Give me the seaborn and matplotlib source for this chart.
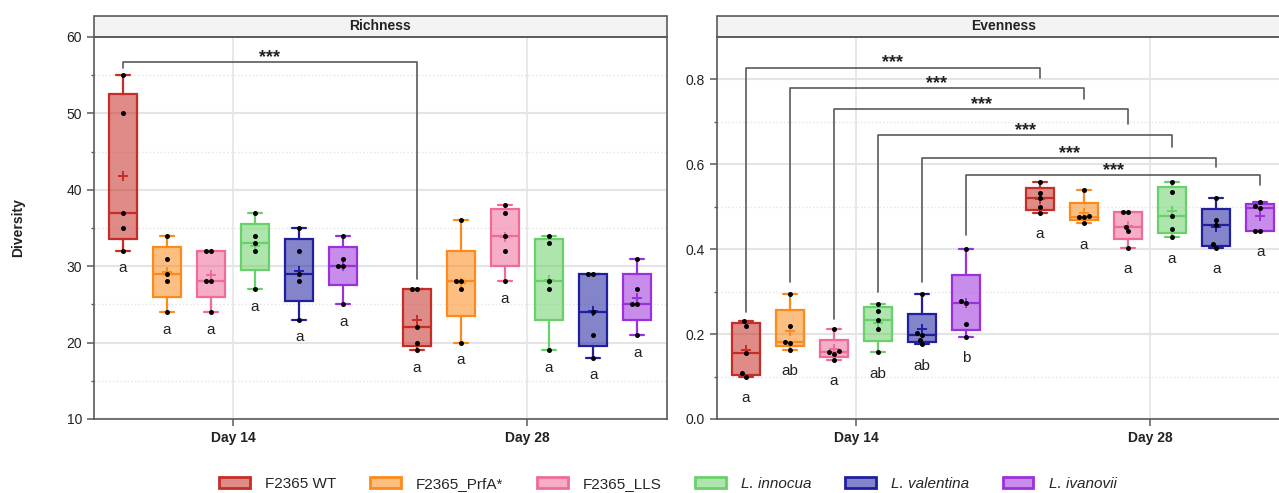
import numpy as np
import pandas as pd
import matplotlib
matplotlib.use('Agg')
import matplotlib.pyplot as plt
from matplotlib.patches import Patch, Rectangle
from matplotlib.colors import to_rgba
from matplotlib.ticker import FormatStrFormatter
import seaborn as sns


# datos (n = 5 por grupo)
strains = ['F2365 WT', 'F2365_PrfA*', 'F2365_LLS', 'L. innocua', 'L. valentina', 'L. ivanovii']
days = ['Day 14', 'Day 28']
edge_colors = ['#c62d26', '#fd8a1c', '#f06b9a', '#6ad16a', '#1f1fa0', '#9c30dc']

richness_day14 = [[32, 35, 37, 50, 55],
                  [24, 28, 29, 31, 34],
                  [24, 28, 28, 32, 32],
                  [27, 32, 33, 34, 37],
                  [23, 28, 29, 32, 35],
                  [25, 30, 30, 31, 34]]
richness_day28 = [[19, 20, 22, 27, 27],
                  [20, 27, 28, 28, 36],
                  [28, 32, 34, 37, 38],
                  [19, 27, 28, 33, 34],
                  [18, 21, 24, 29, 29],
                  [21, 25, 25, 27, 31]]

evenness_day14 = [[0.100, 0.108, 0.156, 0.220, 0.231],
                  [0.163, 0.179, 0.181, 0.220, 0.295],
                  [0.139, 0.154, 0.157, 0.160, 0.212],
                  [0.157, 0.211, 0.234, 0.255, 0.271],
                  [0.176, 0.187, 0.198, 0.202, 0.294],
                  [0.194, 0.224, 0.273, 0.277, 0.401]]
evenness_day28 = [[0.485, 0.500, 0.520, 0.532, 0.558],
                  [0.461, 0.475, 0.477, 0.479, 0.539],
                  [0.404, 0.442, 0.453, 0.488, 0.488],
                  [0.428, 0.447, 0.479, 0.535, 0.558],
                  [0.404, 0.413, 0.457, 0.469, 0.520],
                  [0.443, 0.443, 0.497, 0.501, 0.512]]

letters_richness_day14 = ['a', 'a', 'a', 'a', 'a', 'a']
letters_richness_day28 = ['a', 'a', 'a', 'a', 'a', 'a']
letters_evenness_day14 = ['a', 'ab', 'a', 'ab', 'ab', 'b']
letters_evenness_day28 = ['a', 'a', 'a', 'a', 'a', 'a']


sns.set_theme(style='white')
plt.rcParams['font.family'] = ['Liberation Sans', 'DejaVu Sans']

SLOT = 0.15
GRID = '#e4e4e4'
LINE = '#5a5a5a'


def dibujar_panel(ax, grupos14, grupos28, letras14, letras28, titulo, ylim, yticks, yminor, off_letra):
    filas = []
    for d, (grupos, letras) in enumerate([(grupos14, letras14), (grupos28, letras28)]):
        for j, vals in enumerate(grupos):
            pos = d + (j - 2.5) * SLOT
            v = np.array(vals, dtype=float)
            edge = edge_colors[j]
            # cuartiles estilo (n+1)p como en el grafico original
            q1, med, q3 = np.percentile(v, [25, 50, 75], method='weibull')
            stats = dict(med=med, q1=q1, q3=q3, whislo=v.min(), whishi=v.max(),
                         mean=v.mean(), fliers=[])
            ax.bxp([stats], positions=[pos], widths=0.095, capwidths=0.048,
                   patch_artist=True, showmeans=True, manage_ticks=False,
                   boxprops=dict(facecolor=to_rgba(edge, 0.55), edgecolor=edge, lw=1.6),
                   medianprops=dict(color=edge, lw=1.6),
                   whiskerprops=dict(color=edge, lw=1.6),
                   capprops=dict(color=edge, lw=1.6),
                   meanprops=dict(marker='+', markeredgecolor=edge, markersize=7,
                                  markeredgewidth=1.4))
            ax.text(pos, v.min() - off_letra, letras[j], ha='center', va='center',
                    fontsize=11, color='#222222')
            for x in v:
                filas.append({'xpos': pos, 'valor': x})

    df = pd.DataFrame(filas)
    sns.swarmplot(data=df, x='xpos', y='valor', native_scale=True, color='black',
                  size=3.6, ax=ax, zorder=4)

    ax.set_xlim(-0.473, 1.476)
    ax.set_ylim(*ylim)
    ax.set_xticks([0, 1])
    ax.set_xticklabels(days, fontweight='bold', fontsize=10)
    ax.set_yticks(yticks)
    ax.set_yticks(yminor, minor=True)
    ax.set_xlabel('')
    ax.set_ylabel('')
    ax.set_axisbelow(True)
    ax.yaxis.grid(True, which='major', color=GRID, lw=1.5)
    ax.yaxis.grid(True, which='minor', color=GRID, lw=1.0, ls=':')
    ax.xaxis.grid(True, which='major', color=GRID, lw=1.2)
    ax.tick_params(axis='both', which='major', direction='out', length=5, width=1.1,
                   color=LINE, labelsize=10, labelcolor='#222222', left=True, bottom=True)
    ax.tick_params(axis='y', which='minor', direction='out', length=2.5, width=1.0,
                   color=LINE, left=True)
    for s in ax.spines.values():
        s.set_color(LINE)
        s.set_linewidth(1.2)

    # cabecera gris tipo facet
    h = 21 / 382
    ax.add_patch(Rectangle((0, 1), 1, h, transform=ax.transAxes, facecolor='#f3f3f3',
                           edgecolor=LINE, lw=1.2, clip_on=False))
    ax.text(0.5, 1 + h / 2, titulo, transform=ax.transAxes, ha='center', va='center',
            fontsize=10, fontweight='bold', color='#222222')


def corchete(ax, x1, x2, y, y_izq, y_der):
    ax.plot([x1, x1, x2, x2], [y_izq, y, y, y_der], color=LINE, lw=1.2, zorder=5)
    ax.text((x1 + x2) / 2, y, '***', ha='center', va='baseline', fontsize=13,
            fontweight='bold', color='#222222')


fig = plt.figure(figsize=(12.79, 4.93), dpi=100)
ax1 = fig.add_axes([94 / 1279, 74 / 493, 573 / 1279, 382 / 493])
ax2 = fig.add_axes([717 / 1279, 74 / 493, 573 / 1279, 382 / 493])

dibujar_panel(ax1, richness_day14, richness_day28, letters_richness_day14,
              letters_richness_day28, 'Richness', (10, 60), np.arange(10, 61, 10),
              np.arange(15, 60, 10), 2.3)
dibujar_panel(ax2, evenness_day14, evenness_day28, letters_evenness_day14,
              letters_evenness_day28, 'Evenness', (0, 0.9), np.arange(0, 0.81, 0.2),
              np.arange(0.1, 0.9, 0.2), 0.05)
ax2.yaxis.set_major_formatter(FormatStrFormatter('%.1f'))

# significancia Day 14 vs Day 28
corchete(ax1, -2.5 * SLOT, 1 - 2.5 * SLOT, 56.7, 55.9, 28.3)

alto_corchete = [0.828, 0.779, 0.731, 0.668, 0.614, 0.575]
fin_izq = [0.253, 0.323, 0.235, 0.300, 0.323, 0.433]
fin_der = [0.804, 0.754, 0.696, 0.640, 0.593, 0.552]
for j in range(6):
    off = (j - 2.5) * SLOT
    corchete(ax2, off, 1 + off, alto_corchete[j], fin_izq[j], fin_der[j])

fig.text(18 / 1279, 1 - 228 / 493, 'Diversity', rotation=90, ha='center', va='center',
         fontsize=10, fontweight='bold', color='#222222')

handles = [Patch(facecolor=to_rgba(c, 0.55), edgecolor=c, lw=2) for c in edge_colors]
leg = fig.legend(handles, strains, loc='center', bbox_to_anchor=(668 / 1279, 1 - 484 / 493),
                 ncol=6, frameon=False, fontsize=11, handlelength=2.0, handleheight=0.75,
                 handletextpad=1.0, columnspacing=2.2)
for t in leg.get_texts():
    if t.get_text().startswith('L.'):
        t.set_style('italic')

fig.savefig('out.png', dpi=100)
